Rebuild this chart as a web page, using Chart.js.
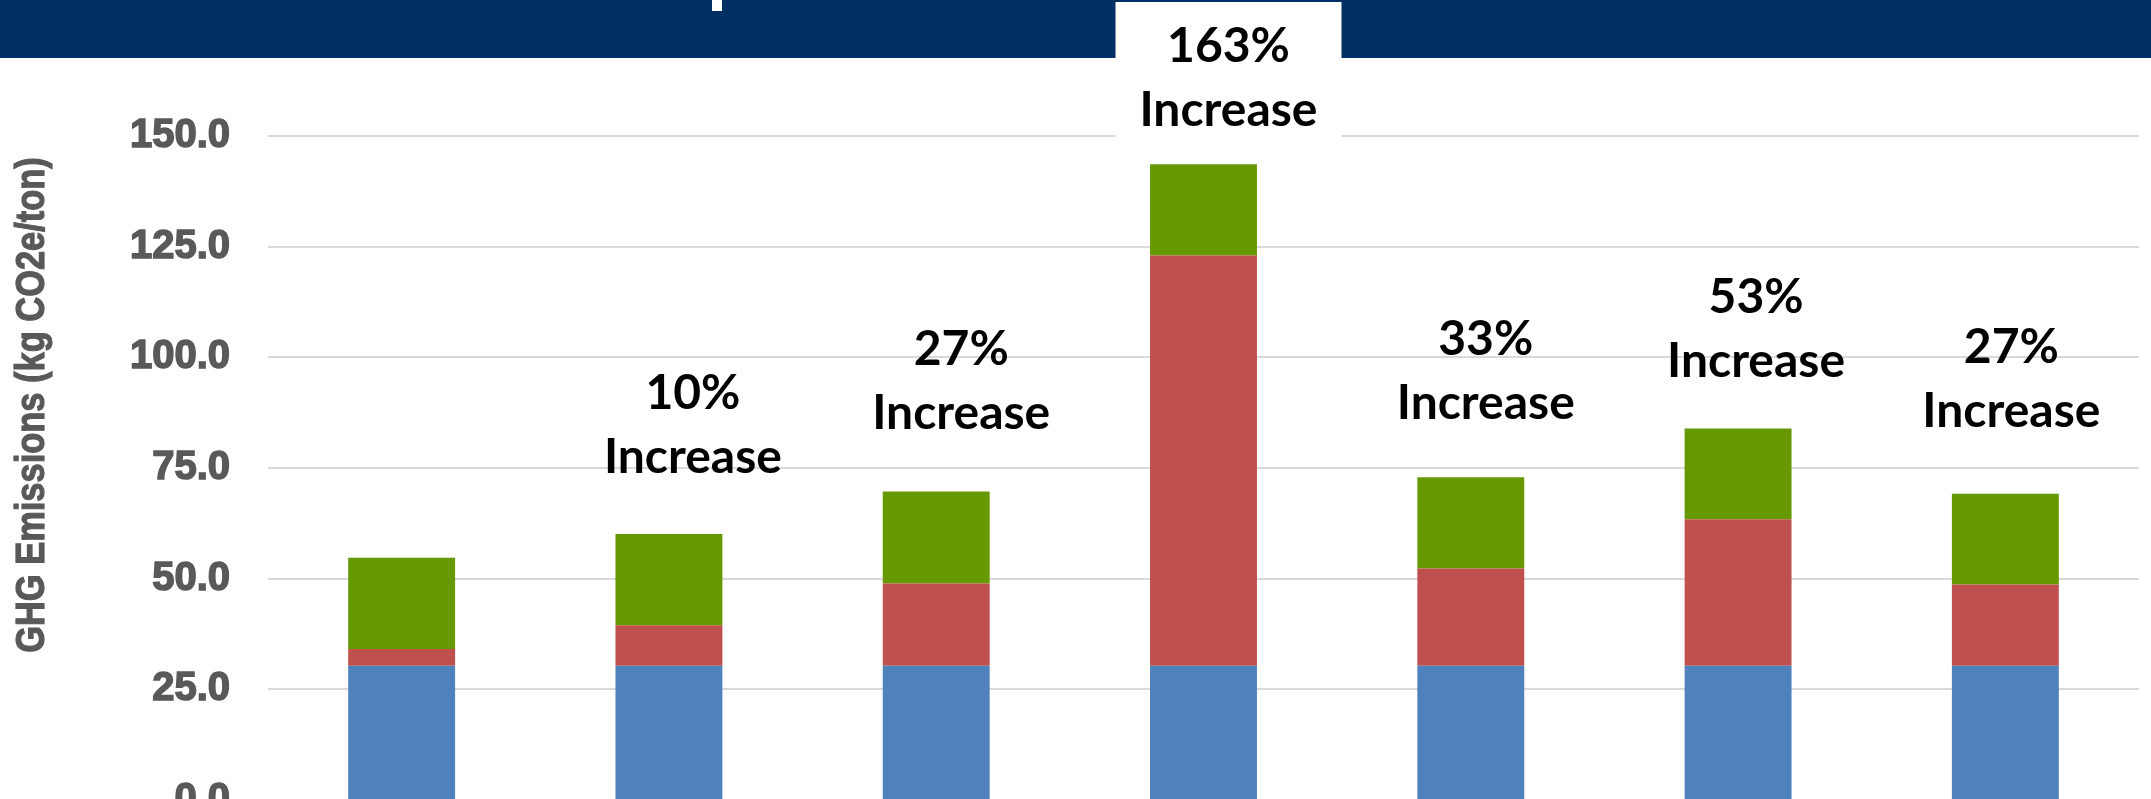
<!DOCTYPE html>
<html>
<head>
<meta charset="utf-8">
<title>GHG Emissions</title>
<script src="https://cdn.jsdelivr.net/npm/chart.js@4.4.1/dist/chart.umd.min.js"></script>
<style>
  html, body { margin: 0; padding: 0; background: #fff; overflow: hidden; }
  #wrap { position: relative; width: 2151px; height: 900px; }
</style>
</head>
<body>
<div id="wrap"><canvas id="chart"></canvas></div>
<script>
// ==== data ====
const categories  = ['Scenario 1', 'Scenario 2', 'Scenario 3', 'Scenario 4', 'Scenario 5', 'Scenario 6', 'Scenario 7'];
const seriesNames = ['Series 1', 'Series 2', 'Series 3'];
const blueValues  = [30.3, 30.3, 30.3, 30.3, 30.3, 30.3, 30.3];
const redValues   = [3.8, 9.2, 18.6, 92.7, 22.0, 33.1, 18.4];
const greenValues = [20.6, 20.6, 20.8, 20.6, 20.6, 20.5, 20.5];
const pctLabels   = ['', '10%', '27%', '163%', '33%', '53%', '27%'];
const yTicks      = [0, 25, 50, 75, 100, 125, 150];
const yTitle      = 'GHG Emissions (kg CO2e/ton)';

// banner + y title, drawn on the canvas
const backdrop = {
  id: 'backdrop',
  beforeDraw(chart) {
    const ctx = chart.ctx;
    ctx.save();
    ctx.fillStyle = '#fff';
    ctx.fillRect(0, 0, chart.width, chart.height);
    ctx.fillStyle = '#002f63';
    ctx.fillRect(0, 0, chart.width, 58);
    // bit of the cut-off heading
    ctx.fillStyle = '#fff';
    ctx.fillRect(712, 0, 10, 11);
    ctx.restore();
  },
  afterDraw(chart) {
    const ctx = chart.ctx;
    ctx.save();
    ctx.translate(44, 405);
    ctx.rotate(-Math.PI / 2);
    ctx.scale(0.84, 1);
    ctx.font = 'bold 41px "Liberation Sans", Arial, sans-serif';
    ctx.fillStyle = '#595959';
    ctx.strokeStyle = '#595959';
    ctx.lineWidth = 1.2;
    ctx.textAlign = 'center';
    ctx.textBaseline = 'alphabetic';
    ctx.fillText(yTitle, 0, 0);
    ctx.strokeText(yTitle, 0, 0);
    ctx.restore();
  }
};

// "xx% Increase" call-outs above the bars
const callouts = {
  id: 'callouts',
  afterDatasetsDraw(chart, args, opts) {
    const ctx = chart.ctx;
    const y = chart.scales.y;
    const bars = chart.getDatasetMeta(0).data;
    ctx.save();
    ctx.font = opts.font;
    ctx.textAlign = 'center';
    ctx.textBaseline = 'alphabetic';
    pctLabels.forEach((txt, i) => {
      if (!txt) return;
      const x = bars[i].x + opts.dx[i];
      const base = y.getPixelForValue(opts.at[i]);
      if (opts.boxed[i]) {
        ctx.fillStyle = '#fff';
        ctx.fillRect(x - 113, 2, 226, base + 14 - 2);
      }
      ctx.fillStyle = '#000';
      ctx.fillText(txt, x, base - opts.lineGap);
      ctx.fillText('Increase', x, base);
    });
    ctx.restore();
  }
};

function draw() {
  const ctx = document.getElementById('chart').getContext('2d');
  new Chart(ctx, {
    type: 'bar',
    data: {
      labels: categories,
      datasets: [
        { label: seriesNames[0], data: blueValues,  backgroundColor: '#4f81bd' },
        { label: seriesNames[1], data: redValues,   backgroundColor: '#c0504d' },
        { label: seriesNames[2], data: greenValues, backgroundColor: '#669900' }
      ]
    },
    options: {
      responsive: true,
      maintainAspectRatio: false,
      animation: false,
      layout: { padding: { top: 136, right: 12, bottom: 100, left: 0 } },
      datasets: { bar: { barPercentage: 0.4, categoryPercentage: 1.0, borderWidth: 0 } },
      scales: {
        x: {
          display: false,
          stacked: true
        },
        y: {
          stacked: true,
          min: 0,
          max: 150,
          afterFit: (s) => { s.width = 268; },
          afterBuildTicks: (s) => { s.ticks = yTicks.map(v => ({ value: v })); },
          grid: { color: '#d9d9d9', lineWidth: 2, drawTicks: false },
          border: { display: false },
          ticks: {
            padding: 38,
            color: '#595959',
            textStrokeColor: '#595959',
            textStrokeWidth: 1.5,
            font: { family: '"Liberation Sans", Arial, sans-serif', size: 40, weight: 'bold' },
            callback: (v) => Number(v).toFixed(1)
          }
        }
      },
      plugins: {
        legend: { display: false },
        tooltip: { enabled: false },
        callouts: {
          font: 'bold 48px Lato, "Open Sans", sans-serif',
          lineGap: 64,
          at:    [null, 73.8, 83.9, 152.2, 86.0, 95.6, 84.3],
          dx:    [0, 24, 25, 25, 15, 18, 6],
          boxed: [false, false, false, true, false, false, false]
        }
      }
    },
    plugins: [backdrop, callouts]
  });
}

if (document.fonts && document.fonts.load) {
  Promise.all([
    document.fonts.load('bold 48px Lato'),
    document.fonts.load('bold 40px "Liberation Sans"')
  ]).then(draw, draw);
} else {
  draw();
}
</script>
</body>
</html>
